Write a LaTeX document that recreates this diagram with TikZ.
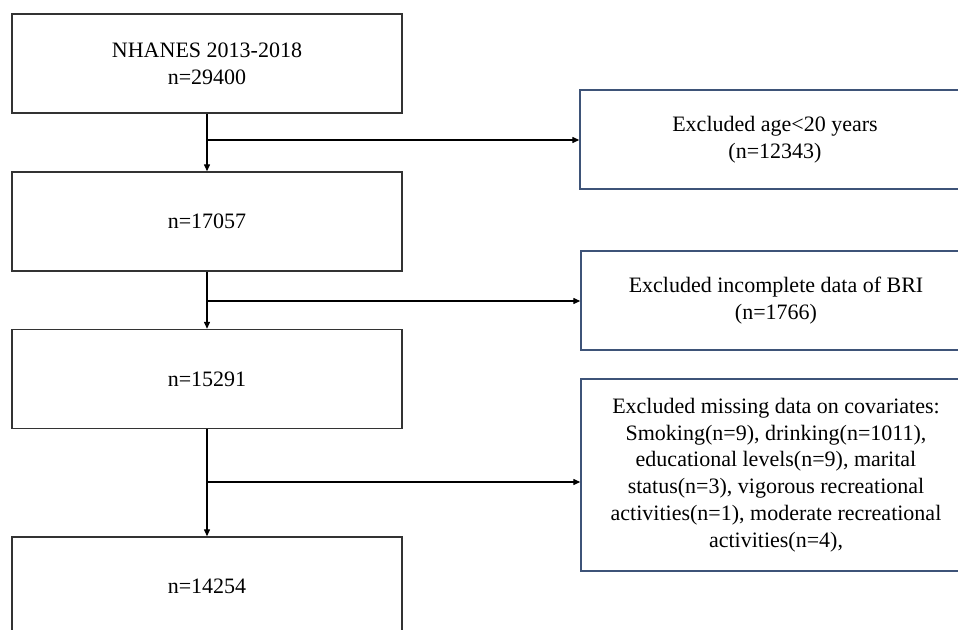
\documentclass[tikz,border=0pt]{standalone}
\usepackage{fontspec}
\setmainfont{Liberation Serif}
\usetikzlibrary{arrows.meta}
\definecolor{leftedge}{HTML}{333333}
\definecolor{rightedge}{HTML}{3E5378}
\tikzset{
  mainbox/.style={draw=leftedge, line width=1.4pt, minimum width=390pt, minimum height=99pt, inner sep=0pt, align=center, font=\fontsize{22}{27}\selectfont},
  exbox/.style={draw=rightedge, line width=1.4pt, minimum width=390pt, minimum height=99pt, inner sep=0pt, align=center, font=\fontsize{22}{26.7}\selectfont},
  flow/.style={draw=black, line width=1.3pt, -{Triangle[length=7pt,width=6pt]}},
  plain/.style={draw=black, line width=1.3pt}
}
\begin{document}
\begin{tikzpicture}[x=1pt,y=-1pt]
\useasboundingbox (0,0) rectangle (958,629);
\clip (0,0) rectangle (958,629);
\fill[white] (0,0) rectangle (958,629);
\node[mainbox] (a) at (207,63.5) {NHANES 2013-2018\\n=29400};
\node[mainbox] (b) at (207,221.5) {n=17057};
\node[mainbox] (c) at (207,379) {n=15291};
\node[mainbox] (d) at (207,586.5) {n=14254};
\node[exbox] (r1) at (775,139.5) {Excluded age<20 years\\(n=12343)};
\node[exbox] (r2) at (776,300.5) {Excluded incomplete data of BRI\\(n=1766)};
\node[exbox, minimum height=192pt] (r3) at (776,475) {Excluded missing data on covariates:\\Smoking(n=9), drinking(n=1011),\\educational levels(n=9), marital\\status(n=3), vigorous recreational\\activities(n=1), moderate recreational\\activities(n=4),};
\coordinate (j1) at (207,140);
\coordinate (j2) at (207,301);
\coordinate (j3) at (207,482);
\draw[flow] (a.south) -- (b.north);
\draw[flow] (b.south) -- (c.north);
\draw[flow] (c.south) -- (d.north);
\draw[flow] (j1) -- (r1.west |- j1);
\draw[flow] (j2) -- (r2.west |- j2);
\draw[flow] (j3) -- (r3.west |- j3);
\end{tikzpicture}
\end{document}
